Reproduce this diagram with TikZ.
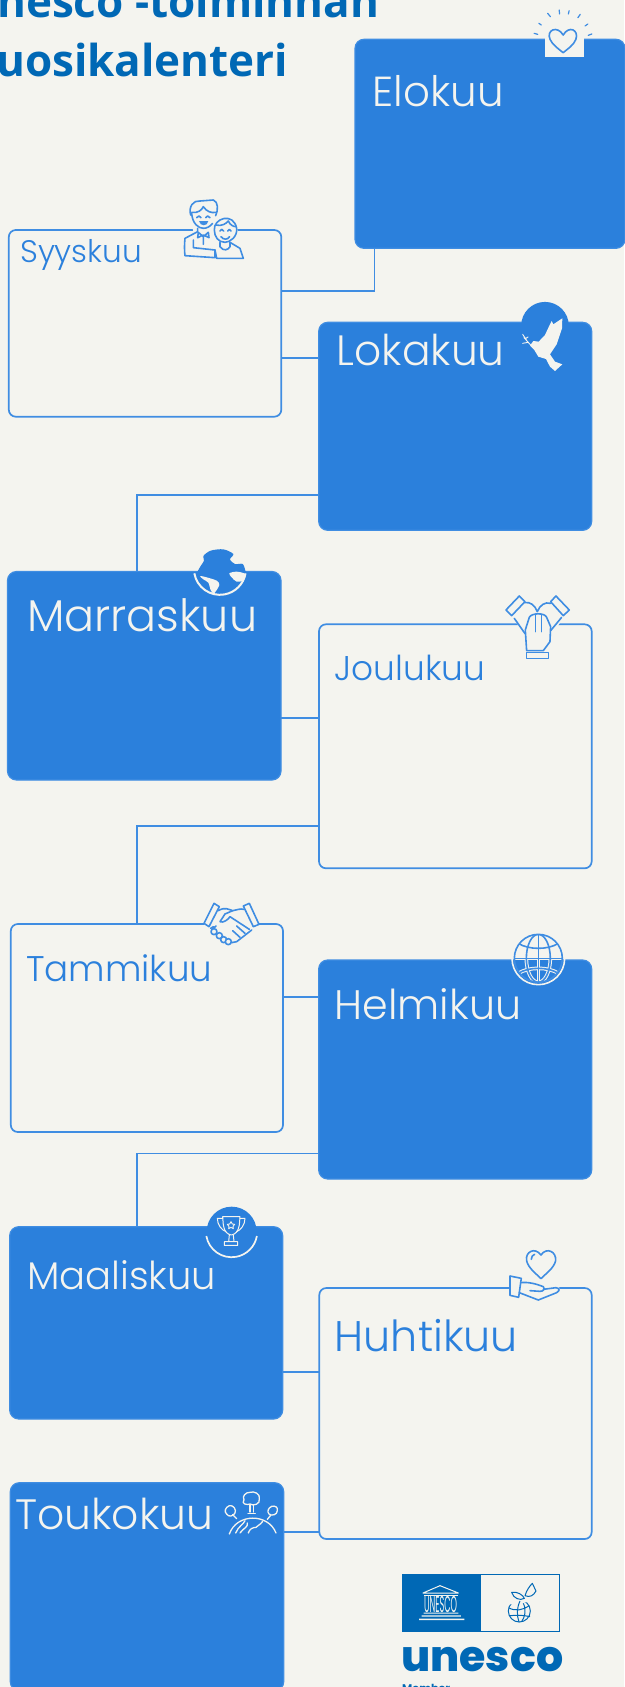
\documentclass[tikz,border=0pt]{standalone}
\usepackage{fontspec}
\setmainfont{Open Sans}
\newfontfamily\mfont{Poppins Light}
\newfontfamily\logofont{Poppins}
\newfontfamily\logoheavy{Poppins ExtraBold}
\newfontfamily\titlefont{Open Sans}
\definecolor{bgc}{HTML}{F4F4EF}
\definecolor{boxblue}{HTML}{2B80DC}
\definecolor{lineblue}{HTML}{3F8DE2}
\definecolor{unblue}{HTML}{0068B5}
\newcommand\fitw[2]{\setbox0=\hbox{\fontsize{20}{24}\selectfont #2}\pgfmathsetmacro\fs{20*#1/\the\wd0}\fontsize{\fs}{\fs}\selectfont #2}
\tikzset{
 x=1pt,y=-1pt,
 fullbox/.style={draw=lineblue,fill=boxblue,line width=1.2pt,rounded corners=9pt,anchor=north west,inner sep=0pt,outer sep=0pt},
 openbox/.style={draw=lineblue,fill=bgc,line width=1.7pt,rounded corners=7pt,anchor=north west,inner sep=0pt,outer sep=0pt},
 conn/.style={draw=lineblue,line width=1.8pt},
 lbl/.style={anchor=base west,inner sep=0pt,font=\mfont},
 wlbl/.style={lbl,text=bgc},
 blbl/.style={lbl,text=boxblue},
 ico/.style={draw=lineblue,line width=1.6pt,line join=round,line cap=round},
 wico/.style={draw=bgc,line width=1.3pt,line join=round,line cap=round},
}
\begin{document}
\begin{tikzpicture}
\useasboundingbox (0,0) rectangle (624,1687);
\fill[bgc] (0,0) rectangle (624,1687);
% title
\node[anchor=base west,inner sep=0pt,text=unblue,font=\titlefont\bfseries\fontsize{44}{44}\selectfont] (t1) at (-3,17.3) {nesco -toiminnan};
\node[anchor=base west,inner sep=0pt,text=unblue,font=\titlefont\bfseries\fontsize{44}{44}\selectfont] (t2) at (-4,76.7) {uosikalenteri};
% connector levels
\coordinate (c1) at (374.5,290.7);
\coordinate (c2) at (300,358);
\coordinate (c3) at (136.6,495);
\coordinate (c4) at (300,717.6);
\coordinate (c5) at (136.6,826.3);
\coordinate (c6) at (300,997);
\coordinate (c7) at (136.6,1153.4);
\coordinate (c8) at (300,1372);
\coordinate (c9) at (300,1532);
% boxes
\node[fullbox,minimum width=270pt,minimum height=209pt] (elo) at (355,39.3) {};
\node[openbox,minimum width=272.5pt,minimum height=186.7pt] (syys) at (8.8,230) {};
\node[fullbox,minimum width=273pt,minimum height=208pt] (loka) at (318.7,322.3) {};
\node[fullbox,minimum width=273.5pt,minimum height=208.5pt] (marr) at (7.5,571.5) {};
\node[openbox,minimum width=272.7pt,minimum height=244pt] (joulu) at (319,624.3) {};
\node[openbox,minimum width=272.2pt,minimum height=208pt] (tammi) at (10.8,924) {};
\node[fullbox,minimum width=273pt,minimum height=219pt] (helmi) at (318.7,960) {};
\node[fullbox,minimum width=273pt,minimum height=192.3pt] (maal) at (9.7,1226.7) {};
\node[openbox,minimum width=272.4pt,minimum height=251pt] (huhti) at (319.3,1288) {};
\node[fullbox,minimum width=273.4pt,minimum height=208pt] (touko) at (10.3,1482.7) {};
% connectors
\draw[conn] (elo.south -| c1) |- (syys.east |- c1);
\draw[conn] (syys.east |- c2) -- (loka.west |- c2);
\draw[conn] (loka.west |- c3) -| (marr.north -| c3);
\draw[conn] (marr.east |- c4) -- (joulu.west |- c4);
\draw[conn] (joulu.west |- c5) -| (tammi.north -| c5);
\draw[conn] (tammi.east |- c6) -- (helmi.west |- c6);
\draw[conn] (helmi.west |- c7) -| (maal.north -| c7);
\draw[conn] (maal.east |- c8) -- (huhti.west |- c8);
\draw[conn] (touko.east |- c9) -- (huhti.west |- c9);
% labels
\node[wlbl] (lelo) at (372.5,106) {\fitw{131}{Elokuu}};
\node[blbl] (lsyys) at (20,262.7) {\fitw{122}{Syyskuu}};
\node[wlbl] (lloka) at (336.6,365) {\fitw{168}{Lokakuu}};
\node[wlbl] (lmarr) at (27,631.6) {\fitw{230}{Marraskuu}};
\node[blbl] (ljoulu) at (334.6,680) {\fitw{150.5}{Joulukuu}};
\node[blbl] (ltammi) at (26,981) {\fitw{186}{Tammikuu}};
\node[wlbl] (lhelmi) at (334.6,1019) {\fitw{186.5}{Helmikuu}};
\node[wlbl] (lmaal) at (27,1289) {\fitw{189}{Maaliskuu}};
\node[blbl] (lhuhti) at (334.6,1351) {\fitw{183}{Huhtikuu}};
\node[wlbl] (ltouko) at (15,1529) {\fitw{198}{Toukokuu}};
% Elokuu heart
\fill[bgc] (545,38) rectangle (584,56.7);
\begin{scope}[x=0.398pt,y=-0.3333pt]
\draw[ico] (1415,105) .. controls (1400,75) and (1372,90) .. (1382,118) .. controls (1388,135) and (1405,148) .. (1415,158) .. controls (1425,148) and (1442,135) .. (1447,118) .. controls (1455,90) and (1430,75) .. (1415,105) -- cycle;
\foreach \a/\b/\c/\d in {1342/100/1351/103,1354/70/1360/75,1376/40/1383/50,1405/30/1406/42,1430/32/1428/42,1458/43/1452/53,1477/72/1470/78,1487/102/1478/106}
  \draw[ico,line width=1.2pt] (\a,\b) -- (\c,\d);
\end{scope}
% Syyskuu people
\begin{scope}[shift={(175,195)},x=0.3333pt,y=-0.3333pt]
\fill[bgc] (27,190) -- (27,130) -- (55,110) -- (42,50) -- (55,18) -- (125,15) -- (130,60) -- (185,80) -- (190,130) -- (205,190) -- cycle;
\draw[ico] (47,60) .. controls (40,35) and (55,15) .. (75,18) -- (115,15) .. controls (130,20) and (130,45) .. (122,62);
\draw[ico] (50,52) .. controls (70,55) and (80,45) .. (85,35) .. controls (95,50) and (110,55) .. (122,52);
\draw[ico] (50,55) .. controls (52,85) and (70,100) .. (85,100) .. controls (95,100) and (105,95) .. (113,85);
\fill[lineblue] (72,78) -- (100,78) .. controls (98,95) and (75,95) .. (72,78);
\draw[ico] (65,68) -- (72,63) -- (78,68) (92,68) -- (98,63) -- (105,68);
\draw[ico] (68,100) -- (68,110) -- (30,130) .. controls (28,145) and (28,170) .. (30,182) -- (120,188) -- (120,165) -- (55,158) -- (55,135);
\draw[ico] (70,112) -- (85,125) -- (100,112) -- (102,128) -- (85,120) -- (68,128) -- cycle (85,125) -- (85,148);
\draw[ico] (118,105) .. controls (115,70) and (175,50) .. (185,100) .. controls (188,125) and (165,142) .. (150,142) .. controls (130,142) and (118,125) .. (118,105);
\draw[ico] (122,90) .. controls (140,95) and (155,85) .. (160,78) .. controls (165,90) and (175,95) .. (183,95);
\draw[ico] (135,108) -- (140,103) -- (146,108) (158,108) -- (163,103) -- (168,108) (138,125) .. controls (145,135) and (158,135) .. (164,125);
\draw[ico] (135,142) -- (135,155) .. controls (145,170) and (160,165) .. (165,155) -- (165,142) -- (195,160) -- (205,190) -- (125,190) -- (120,165);
\end{scope}
% Lokakuu dove
\fill[boxblue] (545,325.7) circle[radius=23.8];
\begin{scope}[shift={(500,295)},x=0.3333pt,y=-0.3333pt]
\fill[bgc] (90,152) -- (100,138) -- (116,140) -- (135,120) -- (148,92) -- (155,78) -- (160,88) -- (187,70) -- (186,100) -- (170,148) -- (150,178) -- (165,200) -- (187,208) -- (165,228) -- (150,215) -- (138,192) -- (115,185) -- (103,165) -- cycle;
\draw[wico,line width=.9pt] (92,150) -- (72,128) (84,142) -- (68,145) (80,136) -- (68,118) (76,131) -- (84,126);
\end{scope}
% Marraskuu globe
\begin{scope}[shift={(190,540)},x=0.3333pt,y=-0.3333pt]
\fill[boxblue] plot[smooth cycle] coordinates {(40,48) (62,32) (100,28) (130,42) (120,58) (135,72) (158,72) (166,92) (168,110) (90,130) (22,110) (28,85) (42,62)};
\fill[bgc] plot[smooth cycle] coordinates {(118,100) (140,95) (165,102) (158,122) (140,125) (125,112)};
\fill[bgc] plot[smooth cycle] coordinates {(30,108) (50,112) (80,122) (88,135) (72,160) (62,150) (55,128) (40,118)};
\draw[bgc,line width=2pt] (13,100) arc[start angle=170,end angle=10,radius=78];
\end{scope}
% Joulukuu hands
\begin{scope}[shift={(180,530)},x=0.3333pt,y=-0.3333pt]
\fill[bgc] (978,240) -- (1018,198) -- (1072,240) -- (1128,198) -- (1168,240) -- (1110,320) -- (1108,385) -- (1040,385) -- (1035,310) -- cycle;
\draw[ico] (978,240) -- (1018,198) -- (1035,215) -- (995,257) -- cycle;
\draw[ico] (1112,215) -- (1128,198) -- (1168,240) -- (1150,257) -- cycle;
\draw[ico] (1040,368) rectangle (1106,385);
\draw[ico] (1040,362) -- (1036,300) -- (1048,262) .. controls (1055,248) and (1095,248) .. (1100,262) -- (1112,290) -- (1110,335) -- (1090,362) -- cycle;
\draw[ico] (1066,255) -- (1066,305) (1085,255) -- (1085,305);
\draw[ico] (1035,218) .. controls (1050,215) and (1065,225) .. (1072,245) .. controls (1080,225) and (1095,215) .. (1112,220);
\draw[ico] (1003,265) -- (1036,312) (1145,262) -- (1112,302);
\end{scope}
% Tammikuu handshake
\begin{scope}[shift={(190,890)},x=0.3333pt,y=-0.3333pt]
\fill[bgc] (42,100) -- (72,40) -- (120,62) -- (178,40) -- (207,103) -- (130,160) -- (90,155) -- (55,125) -- cycle;
\draw[ico] (42,100) -- (72,40) -- (88,50) -- (57,110) -- cycle;
\draw[ico] (160,48) -- (178,40) -- (207,103) -- (190,110) -- cycle;
\draw[ico] (85,62) .. controls (105,50) and (115,58) .. (128,62) .. controls (140,60) and (150,55) .. (162,58);
\draw[ico] (128,62) -- (105,72) -- (90,95) .. controls (100,100) and (115,88) .. (120,80) -- (178,118);
\draw[ico] (185,120) -- (140,155) -- (125,158);
\draw[ico] (165,130) -- (140,108) (150,142) -- (128,122);
\draw[ico] (62,115) -- (70,110) (78,108) -- (68,118);
\foreach \p/\q in {72/125,88/137,101/149,115/155} \draw[ico,fill=bgc] (\p,\q) circle[radius=9];
\end{scope}
% Helmikuu globe
\begin{scope}[shift={(505,925)},x=0.3333pt,y=-0.3333pt]
\fill[bgc] (100,100) circle[radius=72];
\fill[boxblue] (25,105) rectangle (175,175);
\begin{scope}
\clip (100,100) circle[radius=72];
\foreach \w/\c in {3.6pt/bgc,1.6pt/lineblue}{
 \draw[\c,line width=\w] (100,28) -- (100,172) (28,100) -- (172,100);
 \draw[\c,line width=\w] (100,100) ellipse[x radius=36,y radius=72];
 \draw[\c,line width=\w] (40,55) .. controls (70,75) and (130,75) .. (160,55);
 \draw[\c,line width=\w] (40,145) .. controls (70,125) and (130,125) .. (160,145);
}
\end{scope}
\draw[bgc,line width=1.6pt] (100,100) circle[radius=79];
\draw[lineblue,line width=1.6pt] (100,100) circle[radius=72];
\end{scope}
% Maaliskuu trophy
\begin{scope}[shift={(190,1200)},x=0.3333pt,y=-0.3333pt]
\fill[boxblue] (125,95) circle[radius=75];
\draw[bgc,line width=1.7pt] (49,108) arc[start angle=170,end angle=10,radius=77];
\draw[wico,line width=1pt] (98,50) -- (150,50) -- (148,75) .. controls (145,95) and (135,103) .. (124,105) .. controls (112,103) and (103,95) .. (100,75) -- cycle;
\draw[wico,line width=1pt] (98,55) -- (82,55) .. controls (82,75) and (95,90) .. (108,95) (150,55) -- (165,55) .. controls (165,75) and (152,90) .. (140,95);
\draw[wico,line width=1pt] (118,105) -- (116,125) (130,105) -- (132,125) (103,125) rectangle (143,136);
\draw[wico,line width=.9pt] (123,65) -- (127,72) -- (134,73) -- (129,79) -- (130,86) -- (123,82) -- (116,86) -- (117,79) -- (112,73) -- (119,72) -- cycle;
\end{scope}
% Huhtikuu hand and heart
\begin{scope}[shift={(190,1200)},x=0.3333pt,y=-0.3333pt]
\fill[bgc] (958,228) -- (992,235) -- (1060,255) -- (1108,262) -- (1108,272) -- (1045,302) -- (958,288) -- cycle;
\draw[ico] (1053,165) .. controls (1035,140) and (1005,155) .. (1010,182) .. controls (1015,205) and (1040,222) .. (1053,236) .. controls (1066,222) and (1092,205) .. (1097,182) .. controls (1100,155) and (1070,140) .. (1053,165) -- cycle;
\draw[ico] (1024,178) .. controls (1024,170) and (1028,165) .. (1034,163);
\draw[ico] (960,228) -- (994,235) -- (986,292) -- (960,286) -- cycle;
\draw[ico] (992,248) .. controls (1015,245) and (1040,252) .. (1060,260) .. controls (1066,268) and (1060,274) .. (1050,274) -- (1020,272);
\draw[ico] (1060,268) -- (1098,263) .. controls (1110,265) and (1110,272) .. (1100,278) -- (1045,300) -- (988,278);
\end{scope}
% Toukokuu trees and planet
\begin{scope}[shift={(220,1488)},x=0.3333pt,y=-0.3333pt]
\draw[wico] (28,138) .. controls (50,75) and (145,75) .. (168,135);
\draw[wico] (47,135) .. controls (55,115) and (70,110) .. (75,98) (60,135) .. controls (70,120) and (85,118) .. (82,105);
\draw[wico] (85,135) .. controls (88,122) and (100,118) .. (108,118) .. controls (112,112) and (120,112) .. (128,100);
\draw[wico] (90,13) .. controls (78,12) and (65,25) .. (72,35) .. controls (62,48) and (82,52) .. (90,48) .. controls (100,55) and (122,48) .. (118,32) .. controls (122,18) and (102,8) .. (90,13) -- cycle;
\draw[wico] (90,50) -- (90,72) (100,50) -- (100,72) (84,76) -- (106,76);
\draw[wico] (28,53) .. controls (15,58) and (12,72) .. (20,78) .. controls (25,88) and (40,85) .. (45,75) .. controls (50,65) and (40,50) .. (28,53) -- cycle (38,80) -- (50,92);
\draw[wico] (155,55) .. controls (145,60) and (140,70) .. (147,78) .. controls (155,85) and (172,80) .. (172,68) .. controls (175,58) and (165,52) .. (155,55) -- cycle (152,82) -- (142,94);
\end{scope}
% UNESCO logo
\begin{scope}[shift={(395,1565)},x=0.3333pt,y=-0.3333pt]
\fill[unblue] (22,27) rectangle (258,200);
\draw[unblue,line width=1.4pt] (258,28) -- (494,28) -- (494,199) -- (258,199);
\draw[bgc,line width=1pt,line join=round] (84,84) -- (135,62) -- (190,84) -- cycle;
\fill[bgc] (86,89) rectangle (190,93);
\node[inner sep=0pt,text=bgc,font=\logofont] (unname) at (137,118) {\scalebox{1}[2.8]{\fitw{33}{UNESCO}}};
\fill[bgc] (86,143) rectangle (190,146) (80,151) rectangle (198,155) (72,161) rectangle (208,165);
\draw[unblue,line width=1pt,line join=round] (373,138) circle[radius=33];
\fill[bgc] (340,95) -- (400,95) -- (395,112) -- (345,118) -- cycle;
\draw[unblue,line width=1pt,line join=round] (350,82) .. controls (365,78) and (385,90) .. (388,100) .. controls (375,108) and (355,100) .. (350,82) -- cycle;
\draw[unblue,line width=1pt,line join=round] (390,92) .. controls (395,75) and (405,62) .. (412,55) -- (423,78) .. controls (415,92) and (405,98) .. (390,92) -- cycle;
\draw[unblue,line width=1pt] (341,128) .. controls (360,140) and (385,135) .. (403,122) (345,152) .. controls (365,150) and (385,150) .. (405,155) (375,108) .. controls (365,130) and (365,150) .. (372,171) (385,115) .. controls (395,135) and (390,155) .. (380,170);
\end{scope}
\node[anchor=base west,inner sep=0pt,text=unblue,font=\logoheavy] (unes) at (401,1671) {\fitw{162}{unesco}};
\node[anchor=base west,inner sep=0pt,text=unblue,font=\logofont\bfseries] (memb) at (402,1692) {\fitw{48}{Member}};
\end{tikzpicture}
\end{document}
